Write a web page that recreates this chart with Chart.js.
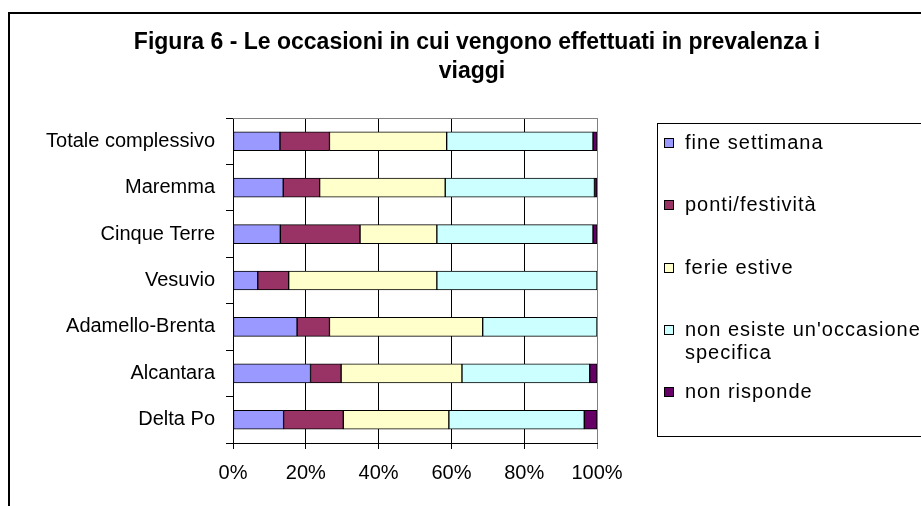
<!DOCTYPE html>
<html>
<head>
<meta charset="utf-8">
<script src="https://cdn.jsdelivr.net/npm/chart.js@4.4.0/dist/chart.umd.min.js"></script>
<style>
  html, body { margin: 0; padding: 0; background: #fff; overflow: hidden; }
  #wrap { position: relative; width: 921px; height: 506px; }
  #frame { position: absolute; left: 8px; top: 12px; width: 1000px; height: 600px; border: 2px solid #000; }
  #chart { position: absolute; left: 0; top: 0; }
</style>
</head>
<body>
<div id="wrap">
  <div id="frame"></div>
  <canvas id="chart" width="921" height="506"></canvas>
</div>
<script>
// categorie (dall'alto verso il basso)
const categories = ['Totale complessivo', 'Maremma', 'Cinque Terre', 'Vesuvio', 'Adamello-Brenta', 'Alcantara', 'Delta Po'];

// valori in percentuale
const fineSettimana  = [12.9, 13.8, 13.0,  6.8, 17.6, 21.3, 13.9];
const pontiFestivita = [13.6, 10.0, 21.9,  8.5,  8.9,  8.4, 16.4];
const ferieEstive    = [32.2, 34.5, 21.1, 40.7, 42.1, 33.2, 29.0];
const nonEsiste      = [40.2, 41.0, 42.9, 44.0, 31.4, 35.1, 37.2];
const nonRisponde    = [ 1.1,  0.7,  1.1,  0.0,  0.0,  2.0,  3.5];

const seriesNames = ['fine settimana', 'ponti/festività', 'ferie estive', "non esiste un'occasione\nspecifica", 'non risponde'];
const seriesColors = ['#9999FF', '#993366', '#FFFFCC', '#CCFFFF', '#660066'];
const xTicks = [0, 20, 40, 60, 80, 100];

const titleLines = ['Figura 6 - Le occasioni in cui vengono effettuati in prevalenza i', 'viaggi'];

const FONT = '"Liberation Sans", Arial, sans-serif';
const legendY = [143, 205, 268, 330, 392];

const decor = {
    id: 'decor',
    beforeDraw(chart) {
        const c = chart.ctx;
        c.save();
        c.fillStyle = '#000';
        c.font = 'bold 23px ' + FONT;
        c.textAlign = 'center';
        c.textBaseline = 'alphabetic';
        c.fillText(titleLines[0], 477, 49);
        c.fillText(titleLines[1], 472, 78);
        c.restore();
    },
    beforeDatasetsDraw(chart) {
        const a = chart.chartArea;
        const c = chart.ctx;
        c.save();
        c.strokeStyle = '#808080';
        c.lineWidth = 1;
        c.beginPath();
        c.moveTo(a.left, Math.round(a.top) + 0.5);
        c.lineTo(a.right, Math.round(a.top) + 0.5);
        c.stroke();
        c.restore();
    },
    afterDraw(chart) {
        const c = chart.ctx;
        c.save();
        c.strokeStyle = '#000';
        c.lineWidth = 1;
        c.strokeRect(657.5, 123.5, 400, 313);
        c.font = '20px ' + FONT;
        c.letterSpacing = '1px';
        c.textAlign = 'left';
        c.textBaseline = 'middle';
        chart.data.datasets.forEach(function (ds, i) {
            const y = legendY[i];
            c.fillStyle = ds.backgroundColor;
            c.fillRect(664, y - 5, 10, 10);
            c.strokeRect(664.5, y - 4.5, 9, 9);
            c.fillStyle = '#000';
            const lines = seriesNames[i].split('\n');
            lines.forEach(function (t, j) {
                c.fillText(t, 685, y + j * 23);
            });
        });
        c.restore();
    }
};

const allData = [fineSettimana, pontiFestivita, ferieEstive, nonEsiste, nonRisponde];

const ctx = document.getElementById('chart').getContext('2d');
const myChart = new Chart(ctx, {
    type: 'bar',
    data: {
        labels: categories,
        datasets: allData.map(function (d, i) {
            return {
                label: seriesNames[i].replace('\n', ' '),
                data: d,
                backgroundColor: seriesColors[i],
                borderColor: '#000',
                borderWidth: 1,
                borderSkipped: false,
                barThickness: 19
            };
        })
    },
    options: {
        indexAxis: 'y',
        responsive: false,
        animation: false,
        layout: {
            padding: { top: 118, right: 324, bottom: 23, left: 0 }
        },
        plugins: {
            legend: { display: false },
            title: { display: false },
            tooltip: { enabled: false }
        },
        scales: {
            x: {
                stacked: true,
                min: 0,
                max: 100,
                afterBuildTicks: function (scale) {
                    scale.ticks = xTicks.map(function (v) { return { value: v }; });
                },
                afterFit: function (scale) { scale.height = 40; },
                grid: {
                    color: function (c) { return c.tick && c.tick.value === 100 ? '#808080' : '#000'; },
                    tickLength: 6
                },
                border: { color: '#000' },
                ticks: {
                    callback: function (v) { return v + '%'; },
                    color: '#000',
                    padding: 12,
                    maxRotation: 0,
                    font: { family: FONT, size: 20 }
                }
            },
            y: {
                stacked: true,
                afterFit: function (scale) { scale.width = 233; },
                grid: {
                    drawOnChartArea: false,
                    offset: true,
                    color: '#000',
                    tickLength: 7
                },
                border: { color: '#000' },
                ticks: {
                    color: '#000',
                    padding: 11,
                    font: { family: FONT, size: 20 }
                }
            }
        }
    },
    plugins: [decor]
});
</script>
</body>
</html>
